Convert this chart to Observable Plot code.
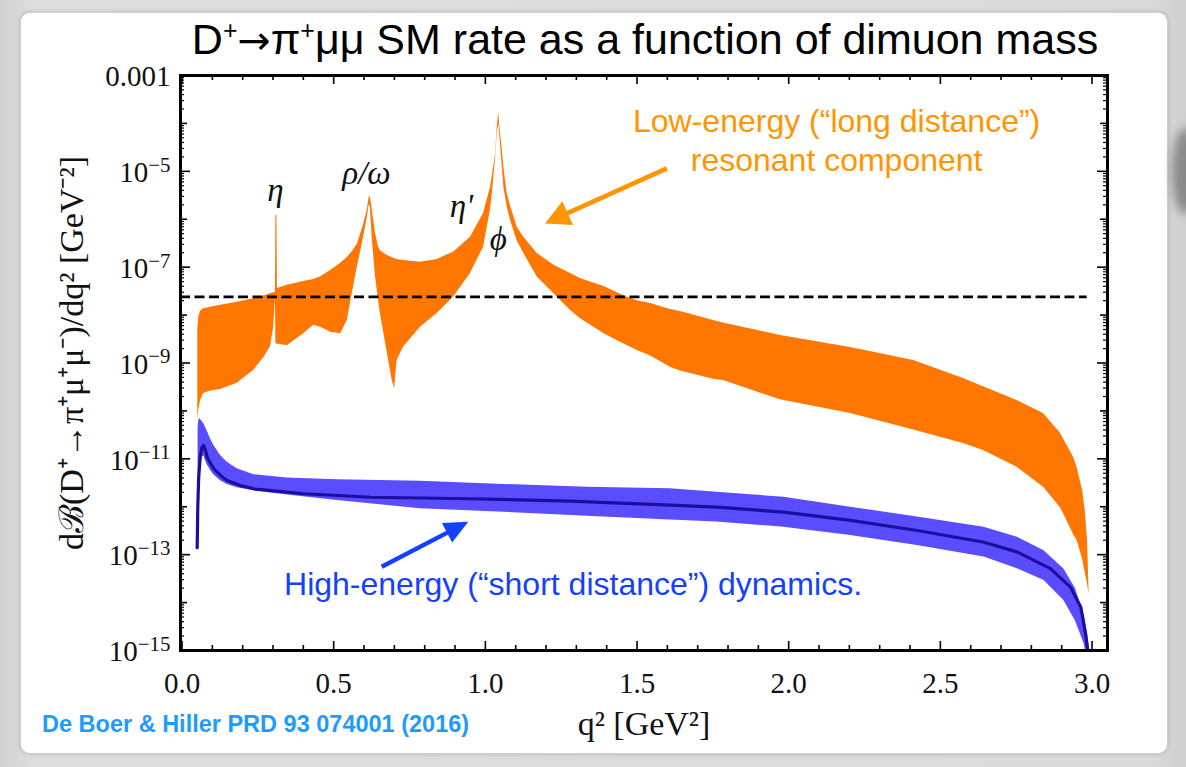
<!DOCTYPE html>
<html>
<head>
<meta charset="utf-8">
<script src="https://cdn.jsdelivr.net/npm/d3@7"></script>
<script src="https://cdn.jsdelivr.net/npm/@observablehq/plot@0.6"></script>
<style>
  html, body { margin: 0; padding: 0; }
  body {
    width: 1186px; height: 767px; position: relative; overflow: hidden;
    background: linear-gradient(90deg, #d2d2d2 0%, #dedede 3%, #dadada 97%, #cfcfcf 100%);
    font-family: "Liberation Sans", Arial, Helvetica, sans-serif;
  }
  #card {
    position: absolute; left: 20px; top: 12px; width: 1146px; height: 740px;
    background: #fff; border-radius: 10px; border: 1px solid #d0d0d0;
    box-shadow: 0 0 4px rgba(0,0,0,0.18);
  }
  #smudge {
    position: absolute; left: 1172px; top: 128px; width: 26px; height: 86px;
    background: #8a8a8a; border-radius: 50%; filter: blur(5px);
  }
  #title {
    position: absolute; left: 145px; top: 18px; width: 1000px;
    text-align: center; font-size: 43px; line-height: 43px; color: #000;
    white-space: nowrap;
  }
  #title .sup { font-size: 0.58em; position: relative; top: -0.62em; line-height: 0; }
  #title .arrow { font-family: "DejaVu Sans", sans-serif; font-size: 0.92em; }
  #chart { position: absolute; left: 0; top: 0; }
  #source {
    position: absolute; left: 42px; top: 713px;
    font-size: 23.5px; line-height: 23.5px; font-weight: bold; color: #1e9bff;
    white-space: nowrap;
  }
</style>
</head>
<body>
<div id="card"></div>
<div id="smudge"></div>
<div id="title">D<span class="sup">+</span><span class="arrow">→</span>π<span class="sup">+</span>μμ SM rate as a function of dimuon mass</div>
<div id="chart"></div>
<div id="source">De Boer &amp; Hiller PRD 93 074001 (2016)</div>
<script>
const NS = "http://www.w3.org/2000/svg";

// Long-distance (resonant) band: q² [GeV²], lower and upper edge of dB/dq² [GeV⁻²]
const orangeQ = [0.052, 0.055, 0.061, 0.071, 0.094, 0.127, 0.182, 0.236, 0.270, 0.292, 0.302, 0.308, 0.3095, 0.3130, 0.3145,
  0.347, 0.401, 0.434, 0.457, 0.490, 0.523, 0.545, 0.561, 0.578, 0.598, 0.611, 0.617, 0.621, 0.627, 0.638, 0.648, 0.654,
  0.677, 0.693, 0.701, 0.709, 0.730, 0.786, 0.841, 0.895, 0.951, 0.994, 1.017, 1.023, 1.034, 1.039, 1.044, 1.048, 1.056,
  1.061, 1.072, 1.083, 1.105, 1.127, 1.171, 1.226, 1.281, 1.313, 1.391, 1.462, 1.501, 1.545, 1.610, 1.643, 1.752, 1.785,
  1.973, 2.204, 2.412, 2.576, 2.642, 2.753, 2.840, 2.896, 2.906, 2.939, 2.951, 2.969, 2.978, 2.985, 2.990];
const orangeLo = [6.5e-11, 1.0e-10, 1.65e-10, 2.3e-10, 2.6e-10, 2.8e-10, 3.8e-10, 7.0e-10, 1.3e-9, 2.2e-9, 5.6e-9, 2.2e-8, 2.5e-9, 2.5e-9, 2.5e-9,
  2.3e-9, 4.1e-9, 6.1e-9, 5.6e-9, 4.4e-9, 4.1e-9, 7.7e-9, 2.8e-8, 1.0e-7, 4.0e-7, 1.1e-6, 2.0e-6, 1.8e-6, 4.0e-7, 6.2e-8, 2.0e-8, 1.08e-8,
  1.58e-9, 4.3e-10, 2.9e-10, 1.13e-9, 2.14e-9, 5.6e-9, 1.08e-8, 2.36e-8, 7.4e-8, 2.6e-7, 1.6e-6, 3.45e-6, 1.97e-5, 6.0e-5, 1.0e-4, 5.0e-5, 1.2e-5,
  4.67e-6, 1.8e-6, 9.4e-7, 3.5e-7, 1.93e-7, 6.2e-8, 2.78e-8, 1.25e-8, 8.5e-9, 4.07e-9, 2.4e-9, 1.82e-9, 1.4e-9, 8.2e-10, 6.8e-10, 4.6e-10, 4.3e-10,
  1.7e-10, 8.8e-11, 4.0e-11, 2.1e-11, 1.49e-11, 6.7e-12, 2.56e-12, 9.5e-13, 7.2e-13, 2.6e-13, 1.98e-13, 8.0e-14, 4.05e-14, 2.5e-14, 1.5e-14];
const orangeHi = [5.0e-9, 9.0e-9, 1.2e-8, 1.35e-8, 1.46e-8, 1.6e-8, 1.86e-8, 2.2e-8, 2.5e-8, 2.78e-8, 2.9e-8, 3.0e-8, 1.2e-6, 1.2e-6, 3.6e-8,
  4.2e-8, 5.0e-8, 5.5e-8, 6.3e-8, 8.5e-8, 1.2e-7, 1.6e-7, 2.1e-7, 3.0e-7, 7.5e-7, 1.6e-6, 2.9e-6, 2.9e-6, 1.6e-6, 5.0e-7, 2.6e-7, 2.2e-7,
  1.75e-7, 1.6e-7, 1.5e-7, 1.45e-7, 1.38e-7, 1.27e-7, 1.45e-7, 2.06e-7, 4.2e-7, 1.32e-6, 4.67e-6, 8.0e-6, 2.35e-5, 8.3e-5, 1.7e-4, 8.0e-5, 2.7e-5,
  1.2e-5, 3.45e-6, 1.9e-6, 6.8e-7, 4.2e-7, 1.93e-7, 1.1e-7, 7.4e-8, 5.8e-8, 3.95e-8, 2.44e-8, 2.0e-8, 1.75e-8, 1.3e-8, 1.19e-8, 7.7e-9, 6.8e-9,
  3.75e-9, 2.1e-9, 1.13e-9, 4.75e-10, 3.2e-10, 1.65e-10, 8.8e-11, 3.4e-11, 2.6e-11, 1.08e-11, 6.5e-12, 2.19e-12, 8.0e-13, 1.98e-13, 2.0e-14];

// Short-distance band: lower and upper edge
const blueQ = [0.053, 0.056, 0.061, 0.066, 0.072, 0.083, 0.094, 0.105, 0.127, 0.149, 0.182, 0.237, 0.347, 0.512, 0.786, 1.061,
  1.336, 1.610, 1.763, 1.984, 2.204, 2.424, 2.644, 2.754, 2.842, 2.907, 2.945, 2.974, 2.985, 2.993];
const blueLo = [3.0e-12, 4.0e-12, 8.0e-12, 1.1e-11, 1.15e-11, 7.5e-12, 5.8e-12, 4.6e-12, 3.5e-12, 2.9e-12, 2.5e-12, 2.15e-12, 1.75e-12, 1.35e-12, 9.1e-13, 7.7e-13,
  6.3e-13, 5.3e-13, 4.8e-13, 3.75e-13, 2.52e-13, 1.56e-13, 8.9e-14, 5.1e-14, 2.9e-14, 1.1e-14, 4.2e-15, 1.38e-15, 6.0e-16, 4.0e-16];
const blueHi = [4.5e-11, 6.9e-11, 6.6e-11, 6.0e-11, 5.4e-11, 3.8e-11, 2.6e-11, 1.9e-11, 1.17e-11, 8.5e-12, 6.2e-12, 4.65e-12, 4.0e-12, 3.66e-12, 3.42e-12, 2.92e-12,
  2.56e-12, 2.37e-12, 2.01e-12, 1.58e-12, 9.8e-13, 6.1e-13, 3.75e-13, 2.32e-13, 1.2e-13, 5.0e-14, 2.0e-14, 5.5e-15, 2.2e-15, 1.0e-15];

// Short-distance central value
const centralQ = [0.050, 0.052, 0.055, 0.060, 0.066, 0.072, 0.078, 0.083, 0.094, 0.105, 0.127, 0.149, 0.190, 0.237, 0.402, 0.622,
  0.951, 1.281, 1.610, 1.763, 1.984, 2.204, 2.424, 2.644, 2.754, 2.863, 2.929, 2.963, 2.979, 2.990];
const centralV = [1.4e-13, 1.0e-12, 4.1e-12, 1.1e-11, 1.75e-11, 1.9e-11, 1.45e-11, 1.08e-11, 8.0e-12, 6.2e-12, 4.5e-12, 3.53e-12, 2.8e-12, 2.37e-12, 1.87e-12, 1.58e-12,
  1.47e-12, 1.31e-12, 1.08e-12, 9.8e-13, 7.7e-13, 5.2e-13, 3.2e-13, 1.82e-13, 1.13e-13, 5.1e-14, 2.1e-14, 8.0e-15, 2.2e-15, 6.0e-16];

// Dashed reference level
const limitLevel = 2.4e-8;
const limitEndQ = 2.984;

// Resonance labels
const resonanceNames = ["η", "ρ/ω", "η'", "ϕ"];
const resonanceQ = [0.308, 0.608, 0.921, 1.043];
const resonanceV = [2.35e-6, 5.57e-6, 1.10e-6, 2.23e-7];

// Axis ticks
const xMajor = [0, 0.5, 1, 1.5, 2, 2.5, 3];
const yLabeledExp = [-3, -5, -7, -9, -11, -13, -15];

// ---- derived tables ----
const orange = orangeQ.map((q, i) => ({q, lo: orangeLo[i], hi: orangeHi[i]}));
const blue = blueQ.map((q, i) => ({q, lo: blueLo[i], hi: blueHi[i]}));
const central = centralQ.map((q, i) => ({q, v: centralV[i]}));
const resonances = resonanceNames.map((name, i) => ({name, q: resonanceQ[i], v: resonanceV[i]}));

const pow10 = (e) => Number(`1e${e}`);
const yLabeled = yLabeledExp.map(pow10);
const yOther = d3.range(-15, -2).filter((e) => !yLabeledExp.includes(e)).map(pow10);
const yMinor = d3.range(-15, -3).flatMap((e) => d3.range(2, 10).map((k) => k * pow10(e)));
const xMinor = d3.range(1, 31).filter((i) => i % 5 !== 0).map((i) => i / 10);

// ---- layout ----
const W = 1186, H = 745, mL = 180, mR = 79, mT = 75, mB = 95;
const fw = W - mL - mR, fh = H - mT - mB;

const ORANGE = "#ff7700";
const BLUE_BAND = "#5a4dff";
const NAVY = "#1c0e9e";
const NOTE_ORANGE = "#ff9500";
const NOTE_BLUE = "#1440ff";
const SANS = "'Liberation Sans', Arial, Helvetica, sans-serif";
const SERIF = "'Liberation Serif', 'Times New Roman', serif";

// Annotation arrows (tail → tip, in data units)
const arrows = [
  {q1: 1.600, v1: 1.13e-5, q2: 1.198, v2: 8.0e-7, color: NOTE_ORANGE, width: 4.6, head: 25, half: 13},
  {q1: 0.660, v1: 5.48e-14, q2: 0.9455, v2: 4.76e-13, color: NOTE_BLUE, width: 4.4, head: 24, half: 11}
];

function arrowMark(a) {
  return (index, scales) => {
    const x1 = scales.x(a.q1), y1 = scales.y(a.v1), x2 = scales.x(a.q2), y2 = scales.y(a.v2);
    const ang = Math.atan2(y2 - y1, x2 - x1), c = Math.cos(ang), s = Math.sin(ang);
    const bx = x2 - a.head * c, by = y2 - a.head * s;
    const g = document.createElementNS(NS, "g");
    const line = document.createElementNS(NS, "line");
    line.setAttribute("x1", x1); line.setAttribute("y1", y1);
    line.setAttribute("x2", bx + 2 * c); line.setAttribute("y2", by + 2 * s);
    line.setAttribute("stroke", a.color); line.setAttribute("stroke-width", a.width);
    const head = document.createElementNS(NS, "path");
    head.setAttribute("d", `M${x2},${y2}L${bx - a.half * s},${by + a.half * c}L${bx + a.half * s},${by - a.half * c}Z`);
    head.setAttribute("fill", a.color);
    g.append(line, head);
    return g;
  };
}

const tickStyle = {stroke: "black", strokeWidth: 1.6};

const chart = Plot.plot({
  width: W, height: H,
  marginLeft: mL, marginRight: mR, marginTop: mT, marginBottom: mB,
  style: {background: "transparent", fontFamily: SERIF, fontSize: "29px", color: "black", overflow: "visible"},
  x: {type: "linear", domain: [-0.005, 3.051], label: null},
  y: {type: "log", domain: [1e-15, 1e-3], label: null},
  marks: [
    Plot.areaY(orange, {x: "q", y1: "lo", y2: "hi", fill: ORANGE, clip: true}),
    Plot.areaY(blue, {x: "q", y1: "lo", y2: "hi", fill: BLUE_BAND, clip: true}),
    Plot.line(central, {x: "q", y: "v", stroke: NAVY, strokeWidth: 3.2, clip: true}),
    Plot.ruleY([limitLevel], {x1: -0.005, x2: limitEndQ, stroke: "black", strokeWidth: 2.6, strokeDasharray: "10,4.5"}),

    // inward ticks on all four sides
    Plot.tickX(xMajor, {x: (d) => d, insetTop: fh - 9, ...tickStyle}),
    Plot.tickX(xMajor, {x: (d) => d, insetBottom: fh - 9, ...tickStyle}),
    Plot.tickX(xMinor, {x: (d) => d, insetTop: fh - 5, ...tickStyle}),
    Plot.tickX(xMinor, {x: (d) => d, insetBottom: fh - 5, ...tickStyle}),
    Plot.tickY(yLabeled, {y: (d) => d, insetRight: fw - 10, ...tickStyle}),
    Plot.tickY(yLabeled, {y: (d) => d, insetLeft: fw - 10, ...tickStyle}),
    Plot.tickY(yOther, {y: (d) => d, insetRight: fw - 7, ...tickStyle}),
    Plot.tickY(yOther, {y: (d) => d, insetLeft: fw - 7, ...tickStyle}),
    Plot.tickY(yMinor, {y: (d) => d, insetRight: fw - 4, stroke: "black", strokeWidth: 1.2}),
    Plot.tickY(yMinor, {y: (d) => d, insetLeft: fw - 4, stroke: "black", strokeWidth: 1.2}),
    Plot.frame({stroke: "black", strokeWidth: 3}),

    Plot.axisX(xMajor, {tickSize: 0, tickPadding: 22, tickFormat: (d) => d.toFixed(1), label: null, fill: "#111"}),
    Plot.axisY(yLabeled, {
      tickSize: 0, tickPadding: 10, label: null, dy: 1.5, fill: "#111",
      tickFormat: (d) => (d === 1e-3 ? "0.001" : `10^${Math.round(Math.log10(d))}`)
    }),

    // axis titles
    Plot.text(["q² [GeV²]"], {frameAnchor: "bottom", dy: 84, lineAnchor: "bottom", fontSize: 34, fill: "#111", ariaLabel: "x-axis title"}),
    Plot.text(["dℬ(D⁺→π⁺μ⁺μ⁻)/dq² [GeV⁻²]"], {
      frameAnchor: "left", textAnchor: "middle", rotate: -90, dx: -98, dy: -10, lineAnchor: "bottom",
      fontSize: 34, fill: "#111", ariaLabel: "y-axis title"
    }),

    // resonance names
    Plot.text(resonances, {x: "q", y: "v", text: "name", fontSize: 33, fontStyle: "italic", lineAnchor: "bottom", fill: "#111"}),

    // component notes
    Plot.text(["Low-energy (“long distance”)\nresonant component"], {
      x: () => 2.158, y: () => 1.04e-5, lineAnchor: "bottom", lineHeight: 1.19, fontSize: 32, fontFamily: SANS, fill: NOTE_ORANGE
    }),
    Plot.text(["High-energy (“short distance”) dynamics."], {
      x: () => 1.289, y: () => 1.41e-14, lineAnchor: "bottom", fontSize: 32, fontFamily: SANS, fill: NOTE_BLUE
    }),
    ...arrows.map(arrowMark)
  ]
});

document.getElementById("chart").append(chart);

// Rich text: superscripts and italics inside an SVG text element
function setRich(textEl, parts, size, supScale = 0.68) {
  while (textEl.firstChild) textEl.removeChild(textEl.firstChild);
  let shift = 0;
  for (const [str, kind] of parts) {
    const t = document.createElementNS(NS, "tspan");
    const target = kind === "sup" ? -0.36 * size : 0;
    if (target !== shift) { t.setAttribute("dy", target - shift); shift = target; }
    if (kind === "sup") t.setAttribute("font-size", supScale * size);
    if (kind === "it") t.setAttribute("font-style", "italic");
    t.textContent = str;
    textEl.appendChild(t);
  }
}

const svg = d3.select(chart);
svg.selectAll('g[aria-label="y-axis tick label"] text').each(function () {
  const s = this.textContent;
  if (s.includes("^")) {
    const exp = s.split("^")[1].replace("-", "−");
    setRich(this, [["10", "n"], [exp, "sup"]], 29, 0.72);
  }
});
svg.selectAll('g[aria-label="x-axis title"] text').each(function () {
  setRich(this, [["q", "n"], ["2", "sup"], ["  [GeV", "n"], ["2", "sup"], ["]", "n"]], 34);
});
svg.selectAll('g[aria-label="y-axis title"] text').each(function () {
  setRich(this, [
    ["dℬ(D", "n"], ["+", "sup"], ["→", "n"], ["π", "it"], ["+", "sup"], ["μ", "it"], ["+", "sup"],
    ["μ", "it"], ["−", "sup"], [")/dq", "n"], ["2", "sup"], [" [GeV", "n"], ["−2", "sup"], ["]", "n"]
  ], 34);
});
</script>
</body>
</html>
